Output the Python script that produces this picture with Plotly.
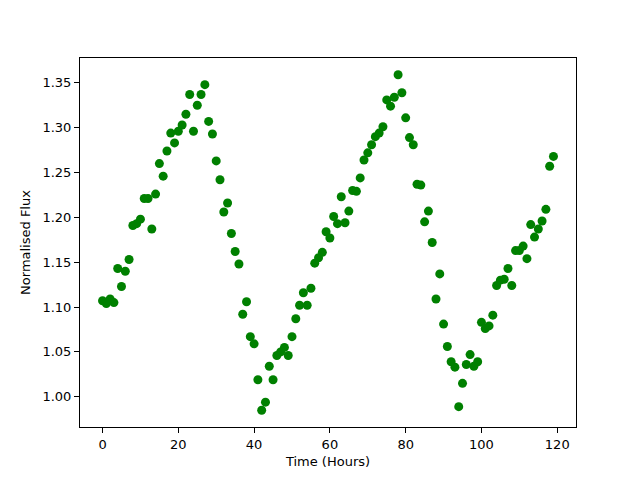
import plotly.graph_objects as go

hours = list(range(120))
flux = [
    1.107, 1.104, 1.109, 1.105, 1.143, 1.123, 1.140, 1.153, 1.191, 1.193,
    1.198, 1.221, 1.221, 1.187, 1.226, 1.260, 1.246, 1.274, 1.294, 1.283,
    1.296, 1.303, 1.315, 1.337, 1.296, 1.325, 1.337, 1.348, 1.307, 1.293,
    1.263, 1.242, 1.206, 1.216, 1.182, 1.162, 1.148, 1.092, 1.106, 1.067,
    1.059, 1.019, 0.985, 0.994, 1.034, 1.019, 1.046, 1.050, 1.055, 1.046,
    1.067, 1.087, 1.102, 1.116, 1.102, 1.121, 1.149, 1.155, 1.161, 1.184,
    1.177, 1.201, 1.193, 1.223, 1.194, 1.207, 1.230, 1.229, 1.244, 1.264,
    1.272, 1.281, 1.290, 1.294, 1.301, 1.331, 1.324, 1.334, 1.359, 1.339,
    1.311, 1.289, 1.281, 1.237, 1.236, 1.195, 1.207, 1.172, 1.109, 1.137,
    1.081, 1.056, 1.039, 1.033, 0.989, 1.015, 1.036, 1.047, 1.034, 1.039,
    1.083, 1.076, 1.079, 1.091, 1.124, 1.130, 1.131, 1.143, 1.124, 1.163,
    1.163, 1.168, 1.154, 1.192, 1.178, 1.187, 1.196, 1.209, 1.257, 1.268,
]
x_ticks = [0, 20, 40, 60, 80, 100, 120]
y_ticks = [1.00, 1.05, 1.10, 1.15, 1.20, 1.25, 1.30, 1.35]

fig = go.Figure(go.Scatter(
    x=hours, y=flux, mode="markers",
    marker=dict(color="#008000", size=9, line=dict(width=0)),
))

font = dict(family="DejaVu Sans", size=13, color="black")
axis_common = dict(
    showgrid=False, zeroline=False, showline=True, linecolor="black",
    linewidth=1, mirror=True, ticks="outside", ticklen=5, tickwidth=1,
    tickcolor="black", tickfont=font,
)
fig.update_layout(
    width=632, height=472,
    margin=dict(l=72, r=64, t=50, b=53),
    paper_bgcolor="white", plot_bgcolor="white",
    showlegend=False, font=font,
    xaxis=dict(range=[-5.95, 124.95], tickvals=x_ticks,
               title=dict(text="Time (Hours)", font=font, standoff=6),
               **axis_common),
    yaxis=dict(range=[0.9663, 1.3777], tickvals=y_ticks, tickformat=".2f",
               title=dict(text="Normalised Flux", font=font, standoff=8),
               **axis_common),
)
fig.write_html("out.html")
